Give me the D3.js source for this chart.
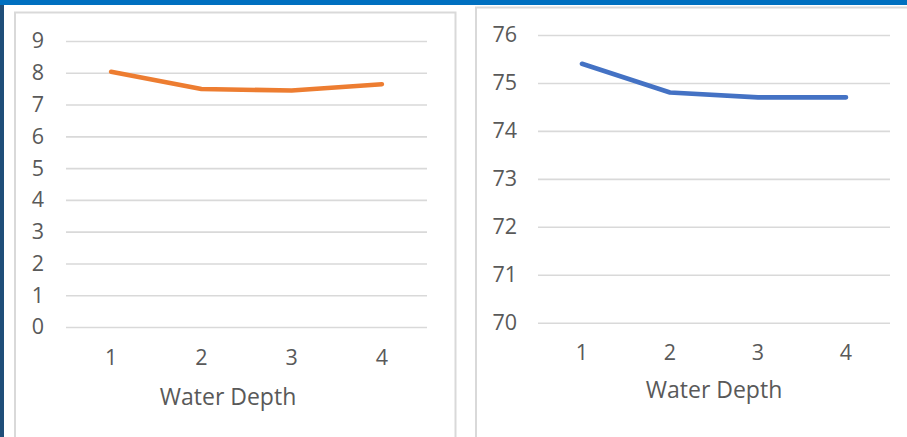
<!DOCTYPE html>
<html>
<head>
<meta charset="utf-8">
<script src="https://cdn.jsdelivr.net/npm/d3@7"></script>
<style>
  html, body { margin: 0; padding: 0; background: #fff; }
  svg { display: block; }
  text { font-family: "Open Sans", "Noto Sans", sans-serif; fill: #595959; }
</style>
</head>
<body>
<svg id="chart" width="907" height="437"></svg>
<script>
// Water depth categories shared by both charts
const depths = [1, 2, 3, 4];
// Left chart series (orange) and its y ticks
const leftValues = [8.03, 7.49, 7.44, 7.64];
const leftTicks = [0, 1, 2, 3, 4, 5, 6, 7, 8, 9];
// Right chart series (blue) and its y ticks
const rightValues = [75.4, 74.8, 74.7, 74.7];
const rightTicks = [70, 71, 72, 73, 74, 75, 76];
const xTitle = "Water Depth";

const svg = d3.select("#chart");
const W = 907, H = 437;

// Window frame: blue strip across the top, dark strip down the left edge
svg.append("rect").attr("x", 0).attr("y", 0).attr("width", W).attr("height", H).attr("fill", "#fff");
svg.append("rect").attr("x", 0).attr("y", 0).attr("width", 4).attr("height", H).attr("fill", "#1F4E79");
svg.append("rect").attr("x", 0).attr("y", 0).attr("width", W).attr("height", 5).attr("fill", "#0070C0");

// Chart area frames
svg.append("rect").attr("x", 15).attr("y", 12.5).attr("width", 440.5).attr("height", 440)
  .attr("fill", "#fff").attr("stroke", "#D9D9D9").attr("stroke-width", 2);
svg.append("rect").attr("x", 476).attr("y", 7.5).attr("width", 450).attr("height", 440)
  .attr("fill", "#fff").attr("stroke", "#D9D9D9").attr("stroke-width", 2);

function drawChart(cfg) {
  const g = svg.append("g");
  const x = d3.scaleBand().domain(depths).range([cfg.x0, cfg.x1]).padding(0);
  const y = d3.scaleLinear().domain(cfg.domain).range([cfg.yBottom, cfg.yTop]);

  // Y axis with gridlines
  const yAxis = d3.axisLeft(y).tickValues(cfg.ticks).tickFormat(d3.format("d"))
    .tickSize(-(cfg.x1 - cfg.x0)).tickPadding(cfg.labelGap);
  const ya = g.append("g").attr("transform", `translate(${cfg.x0},0)`).call(yAxis);
  ya.select(".domain").remove();
  ya.selectAll(".tick line").attr("stroke", "#D9D9D9").attr("stroke-width", 1.6);
  ya.selectAll(".tick text").attr("font-size", 21.5).attr("fill", "#595959")
    .attr("font-family", "'Open Sans', sans-serif");

  // X axis labels
  const xAxis = d3.axisBottom(x).tickSize(0).tickPadding(cfg.xPad);
  const xa = g.append("g").attr("transform", `translate(0,${cfg.yBottom})`).call(xAxis);
  xa.select(".domain").remove();
  xa.selectAll(".tick text").attr("font-size", 21.5).attr("fill", "#595959")
    .attr("font-family", "'Open Sans', sans-serif");

  // Axis title
  g.append("text").attr("x", cfg.titleX).attr("y", cfg.titleY)
    .attr("text-anchor", "middle").attr("dy", "0.35em")
    .attr("font-size", 23).text(xTitle);

  // Series line
  const line = d3.line()
    .x((d, i) => x(depths[i]) + x.bandwidth() / 2)
    .y(d => y(d));
  g.append("path").datum(cfg.values).attr("d", line)
    .attr("fill", "none").attr("stroke", cfg.color).attr("stroke-width", 4.6)
    .attr("stroke-linecap", "round").attr("stroke-linejoin", "round");
}

drawChart({
  x0: 66, x1: 427, yTop: 41, yBottom: 327, domain: [0, 9], ticks: leftTicks,
  values: leftValues, color: "#ED7D31", labelGap: 22, xPad: 23,
  titleX: 228, titleY: 397
});

drawChart({
  x0: 538, x1: 890, yTop: 35, yBottom: 322.7, domain: [70, 76], ticks: rightTicks,
  values: rightValues, color: "#4472C4", labelGap: 21, xPad: 22,
  titleX: 714, titleY: 390
});
</script>
</body>
</html>
